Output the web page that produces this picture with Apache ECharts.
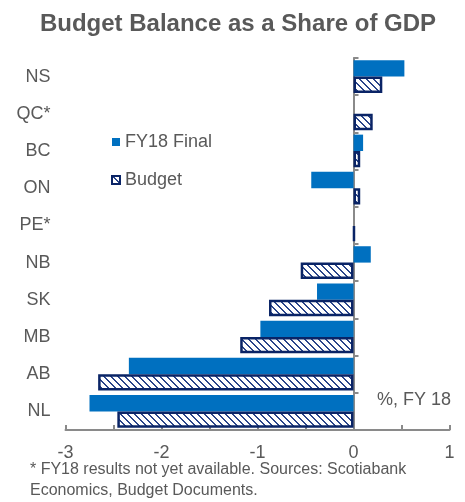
<!DOCTYPE html>
<html><head><meta charset="utf-8">
<script src="https://cdn.jsdelivr.net/npm/echarts@6/dist/echarts.min.js"></script>
<style>html,body{margin:0;padding:0;background:#fff}#c{width:465px;height:502px}</style>
</head><body><div id="c"></div>
<script>
const categories = ['NS','QC*','BC','ON','PE*','NB','SK','MB','AB','NL'];
const finalValues = [0.53, null, 0.10, -0.44, null, 0.18, -0.38, -0.97, -2.34, -2.75];
const budgetValues = [0.30, 0.20, 0.07, 0.07, 0.01, -0.55, -0.88, -1.18, -2.66, -2.46];
const xTickLabels = ['-3','-2','-1','0','1'];
const seriesNames = ['FY18 Final','Budget'];

function hatch(){
  const n=7, c=document.createElement('canvas'); c.width=n; c.height=n;
  const ctx=c.getContext('2d'); const img=ctx.createImageData(n,n);
  for(let y=0;y<n;y++)for(let x=0;x<n;x++){
    const k=(y*n+x)*4; const d=((x-y)%n+n)%n;
    const dark = d<2;
    img.data[k]=dark?0x2a:255; img.data[k+1]=dark?0x45:255; img.data[k+2]=dark?0x8a:255; img.data[k+3]=255;
  }
  ctx.putImageData(img,0,0); return c;
}
const txt='#595959', axisCol='#8a8a8a';
const chart=echarts.init(document.getElementById('c'));
chart.setOption({
  animation:false,
  grid:{left:65.5,right:15.5,top:58,bottom:72},
  legend:{orient:'vertical',left:106,top:128,itemWidth:8,itemHeight:8,itemGap:20,icon:'rect',
    textStyle:{fontSize:18,color:txt,fontFamily:'Liberation Sans'},data:seriesNames},
  xAxis:{type:'value',min:-3,max:1,interval:0.5,splitLine:{show:false},
    axisLine:{show:true,lineStyle:{color:axisCol,width:2}},
    axisTick:{show:true,inside:true,length:5,lineStyle:{color:axisCol,width:2}},
    axisLabel:{margin:14,fontSize:18,color:txt,fontFamily:'Liberation Sans',
      formatter:v=>{const i=xTickLabels.indexOf(String(v));return i>=0?xTickLabels[i]:'';}}},
  yAxis:[
    {type:'category',data:categories,inverse:true,position:'left',
     axisLine:{show:false,onZero:false},axisTick:{show:false},
     axisLabel:{margin:15,fontSize:18,color:txt,fontFamily:'Liberation Sans'}},
    {type:'category',data:categories,inverse:true,position:'left',
     axisLine:{show:true,onZero:true,lineStyle:{color:axisCol,width:2}},
     axisTick:{show:true,inside:true,length:5,lineStyle:{color:axisCol,width:2}},
     axisLabel:{show:false}}
  ],
  series:[
    {name:seriesNames[0],type:'bar',yAxisIndex:0,data:finalValues,barGap:'0%',barCategoryGap:'12%',
     itemStyle:{color:'#0070C0'}},
    {name:seriesNames[1],type:'bar',yAxisIndex:0,data:budgetValues,barGap:'0%',barCategoryGap:'12%',
     itemStyle:{color:{image:hatch(),repeat:'repeat'},borderColor:'#0A2466',borderWidth:2.5}}
  ],
  graphic:[
    {type:'text',x:238,y:24,style:{text:'Budget Balance as a Share of GDP',textAlign:'center',textVerticalAlign:'middle',fontSize:24,fontWeight:'bold',fill:txt,fontFamily:'Liberation Sans'}},
    {type:'text',left:377,top:391,style:{text:'%, FY 18',fontSize:18,fill:txt,fontFamily:'Liberation Sans'}},
    {type:'text',left:30,top:459,style:{text:'* FY18 results not yet available. Sources: Scotiabank\nEconomics, Budget Documents.',fontSize:16,lineHeight:21,fill:txt,fontFamily:'Liberation Sans'}}
  ]
});
</script></body></html>
